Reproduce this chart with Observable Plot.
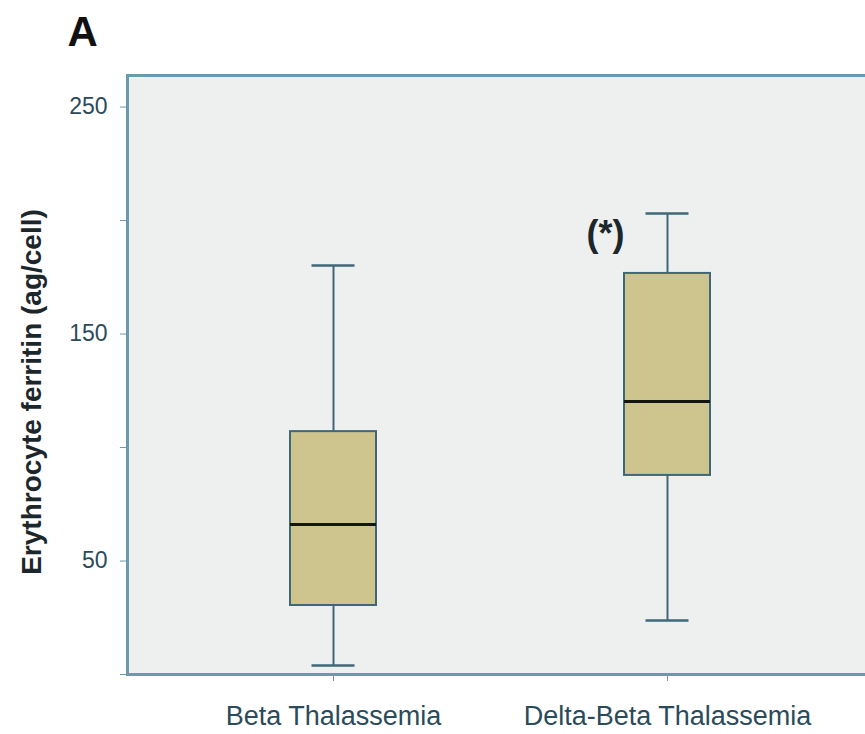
<!DOCTYPE html>
<html><head><meta charset="utf-8">
<script src="https://cdn.jsdelivr.net/npm/d3@7"></script>
<script src="https://cdn.jsdelivr.net/npm/@observablehq/plot@0.6"></script>
<style>body{margin:0;background:#fff;overflow:hidden;}</style>
</head><body><div id="chart"></div>
<script>
const groups = ["Beta Thalassemia", "Delta-Beta Thalassemia"];
const whiskerLow = [4.0, 23.8];
const q1 = [30.4, 87.7];
const medians = [66.1, 120.3];
const q3 = [107.0, 176.7];
const whiskerHigh = [180.2, 203.1];
const yTicks = [0, 50, 100, 150, 200, 250];
const yTickLabels = ["", "50", "", "150", "", "250"];
const yLabel = "Erythrocyte ferritin (ag/cell)";
const panelLabel = "A";
const annotationGroup = ["Delta-Beta Thalassemia"];
const annotationY = [194];
const annotationText = ["(*)"];

const boxes = groups.map((g, i) => ({group: g, lo: whiskerLow[i], q1: q1[i], median: medians[i], q3: q3[i], hi: whiskerHigh[i]}));
const annots = annotationGroup.map((g, i) => ({group: g, y: annotationY[i], label: annotationText[i]}));
const labelMap = new Map(yTicks.map((t, i) => [t, yTickLabels[i]]));

const boxStroke = "#3e6877";
const frameStroke = "#6b9aae";

const chart = Plot.plot({
  width: 872, height: 734,
  marginTop: 75, marginLeft: 127, marginRight: 0, marginBottom: 60,
  style: {fontFamily: "'Liberation Sans', Arial, sans-serif", background: "transparent", overflow: "visible", maxWidth: "none"},
  x: {type: "band", domain: groups, paddingInner: 0.743, paddingOuter: 0.4835, align: 0.5},
  y: {domain: [0, 263.9]},
  marks: [
    Plot.frame({fill: "#eef0f0", stroke: null}),
    Plot.ruleX(boxes, {x: "group", y1: "lo", y2: "hi", stroke: boxStroke, strokeWidth: 2}),
    Plot.tickY(boxes, {x: "group", y: "lo", stroke: boxStroke, strokeWidth: 2.5, insetLeft: 21.5, insetRight: 21.5}),
    Plot.tickY(boxes, {x: "group", y: "hi", stroke: boxStroke, strokeWidth: 2.5, insetLeft: 21.5, insetRight: 21.5}),
    Plot.barY(boxes, {x: "group", y1: "q1", y2: "q3", fill: "#cdc48e", stroke: boxStroke, strokeWidth: 2}),
    Plot.tickY(boxes, {x: "group", y: "median", stroke: "#141414", strokeWidth: 3}),
    Plot.frame({stroke: frameStroke, strokeWidth: 3}),
    Plot.axisY(yTicks, {tickSize: 7, tickPadding: 13, tickFormat: d => labelMap.get(d) ?? "", fontSize: 23, stroke: frameStroke, fill: "#2b4b5a", label: null}),
    Plot.axisX({tickSize: 7, tickPadding: 24, fontSize: 27, stroke: frameStroke, fill: "#2b4b5a", label: null}),
    Plot.text([yLabel], {frameAnchor: "left", rotate: -90, textAnchor: "middle", dx: -95, dy: 17, fontSize: 28, fontWeight: "bold", fill: "#1c272c"}),
    Plot.text([panelLabel], {frameAnchor: "top-left", dx: -60, dy: -30, textAnchor: "start", lineAnchor: "bottom", fontSize: 42, fontWeight: "bold", fill: "#111"}),
    Plot.text(annots, {x: "group", y: "y", text: "label", dx: -62, fontSize: 36, fontWeight: "bold", fill: "#1c272c"})
  ]
});
document.getElementById("chart").appendChild(chart);
</script>
</body></html>
